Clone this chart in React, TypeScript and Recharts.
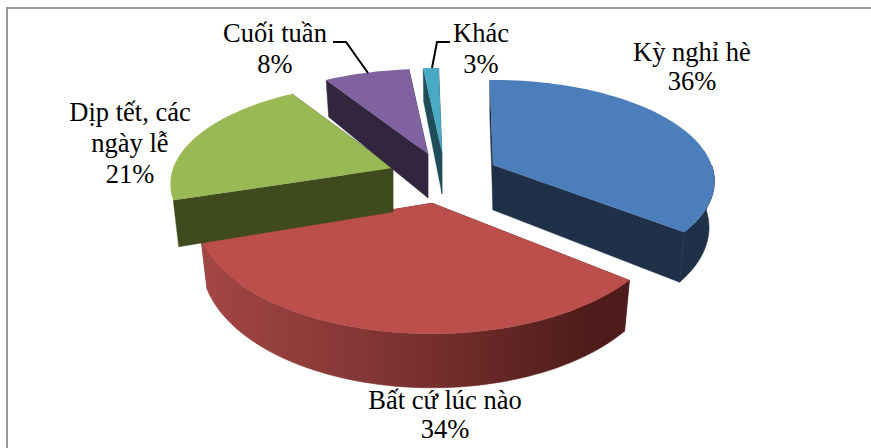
import { PieChart, Pie } from 'recharts'

const categories = ['Kỳ nghỉ hè', 'Bất cứ lúc nào', 'Dịp tết, các ngày lễ', 'Cuối tuần', 'Khác']
// the printed percentages
const printedLabels = ['36%', '34%', '21%', '8%', '3%']
// wedge sizes as drawn, Khác is drawn much thinner than its printed 3%
const drawnShares = [36, 34.6, 21.4, 7.2, 1.3]

const topColors = ['#4C7EBB', '#BC4F4C', '#98B954', '#7F629F', '#4AA9C4']
const wallColors = ['#1E3148', '#4E1C1A', '#404A1F', '#32263F', '#1F4E58']

const chartData = categories.map((name, i) => ({ name, value: drawnShares[i], fill: topColors[i] }))

const CX = 440
const CY = 170
const RADIUS = 222

// per slice look of the 3d pie: explode offset from the centre, radius factor, tilt, perspective, thickness
const sliceLook = [
  { dx: 53, dy: -5, rx: 0.985, ky: 98.7, p: 0.16, depth: 45, rim: true },
  { dx: -8, dy: 33, rx: 1.06, ky: 118, p: 0.098, depth: 46, rim: true },
  { dx: -47, dy: -2, rx: 0.99, ky: 98.7, p: 0.16, depth: 44, rim: false },
  { dx: -12, dy: -16, rx: 1, ky: 98.7, p: 0.16, depth: 44, rim: false },
  { dx: 2, dy: -17, rx: 1, ky: 98.7, p: 0.16, depth: 41, rim: false },
]

// label lines and leader lines
const labelLook = [
  { x: 692, lines: ['Kỳ nghỉ hè'], y: 61, pct: 90 },
  { x: 445, lines: ['Bất cứ lúc nào'], y: 409, pct: 438 },
  { x: 130, lines: ['Dịp tết, các', 'ngày lễ'], y: 121, pct: 183 },
  { x: 275, lines: ['Cuối tuần'], y: 42, pct: 73 },
  { x: 481, lines: ['Khác'], y: 42, pct: 73 },
]
const leaders: Record<number, string> = {
  3: '333,42 346,42 368,73',
  4: '450,42 437,42 432,68',
}

function Slice3D(props: any) {
  const { cx, cy, outerRadius, startAngle, endAngle, index, fill } = props
  const look = sliceLook[index]
  const ax = cx + look.dx
  const ay = cy + look.dy
  const R = outerRadius * look.rx

  const top = (deg: number) => {
    const t = (deg * Math.PI) / 180
    const u = Math.cos(t)
    const v = -Math.sin(t)
    const s = 1 / (1 - look.p * v)
    return { x: ax + R * u * s, y: ay + look.ky * v * s, v }
  }
  const drop = (pt: { x: number; y: number; v: number }) => ({
    x: ax + (pt.x - ax) * 0.975,
    y: pt.y + look.depth + 8 * pt.v,
    v: pt.v,
  })
  const fmt = (pts: { x: number; y: number }[]) =>
    pts.map((q) => `${q.x.toFixed(1)},${q.y.toFixed(1)}`).join(' ')

  const arc: { x: number; y: number; v: number }[] = []
  const steps = Math.max(4, Math.ceil(Math.abs(startAngle - endAngle) / 2))
  for (let i = 0; i <= steps; i++) {
    arc.push(top(startAngle + ((endAngle - startAngle) * i) / steps))
  }
  const apex = { x: ax, y: ay, v: 0 }
  const first = arc[0]
  const last = arc[arc.length - 1]
  const front = arc.filter((q) => q.v >= -0.02)
  const gradId = `rim-${index}`
  const wall = wallColors[index]

  return (
    <g>
      <defs>
        <linearGradient id={gradId} x1="0" y1="0" x2="1" y2="0">
          <stop offset="0%" stopColor={index === 1 ? '#A34745' : wall} />
          <stop offset="50%" stopColor={index === 1 ? '#7A312F' : wall} />
          <stop offset="90%" stopColor={wall} />
        </linearGradient>
      </defs>
      <polygon points={fmt([apex, first, drop(first), drop(apex)])} fill={wall} stroke={wall} strokeWidth={0.4} />
      <polygon points={fmt([apex, last, drop(last), drop(apex)])} fill={wall} stroke={wall} strokeWidth={0.4} />
      {look.rim && front.length > 1 && (
        <polygon
          points={fmt([...front, ...front.map(drop).reverse()])}
          fill={`url(#${gradId})`}
          stroke={`url(#${gradId})`}
          strokeWidth={0.6}
        />
      )}
      <polygon points={fmt([apex, ...arc])} fill={fill} />
    </g>
  )
}

function SliceLabel(props: any) {
  const { index } = props
  const look = labelLook[index]
  const rows = [...look.lines.map((line, i) => ({ text: line, y: look.y + i * 31 })), { text: printedLabels[index], y: look.pct }]
  return (
    <g>
      {leaders[index] && <polyline points={leaders[index]} fill="none" stroke="#000" strokeWidth={2} />}
      {rows.map((row) => (
        <text
          key={row.text}
          x={look.x}
          y={row.y}
          textAnchor="middle"
          fill="#000"
          fontSize={26.5}
          style={{ fontFamily: '"Liberation Serif", "Times New Roman", serif' }}
        >
          {row.text}
        </text>
      ))}
    </g>
  )
}

export default function App() {
  return (
    <div style={{ position: 'absolute', left: 0, top: 0, width: 871, height: 448, background: '#fff', overflow: 'hidden' }}>
      <div style={{ position: 'absolute', left: 6, top: 7, width: 865, height: 441, borderTop: '2px solid #999', borderLeft: '2px solid #999' }} />
      <PieChart width={871} height={448} margin={{ top: 0, right: 0, bottom: 0, left: 0 }}>
        <Pie
          data={chartData}
          dataKey="value"
          cx={CX}
          cy={CY}
          outerRadius={RADIUS}
          startAngle={91}
          endAngle={-269}
          stroke="none"
          shape={Slice3D}
          label={SliceLabel}
          labelLine={false}
          isAnimationActive={false}
        />
      </PieChart>
    </div>
  )
}
